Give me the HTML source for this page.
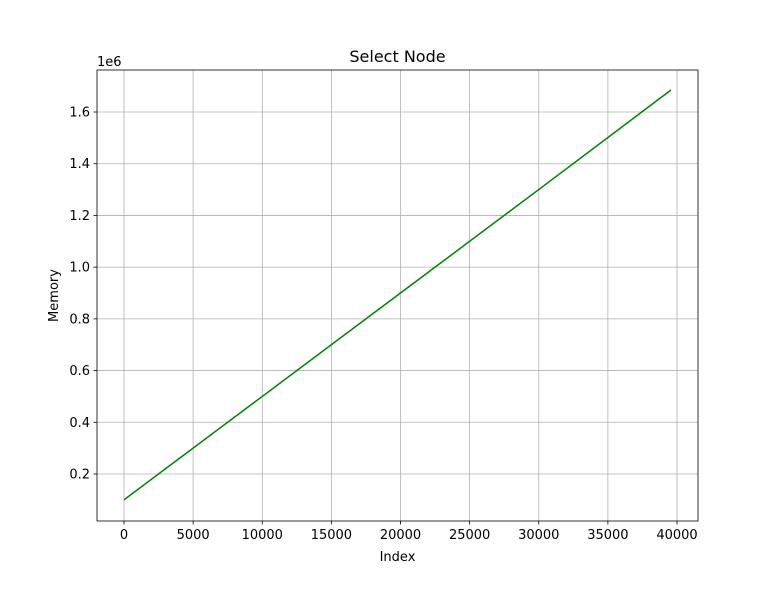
<!DOCTYPE html>
<html><head><meta charset="utf-8"><style>
body{margin:0;background:#fff;}
svg text{font-family:"DejaVu Sans","Liberation Sans",sans-serif;fill:#000;}
</style></head><body>
<svg id="chart" width="776" height="585" xmlns="http://www.w3.org/2000/svg"></svg>
<script>
const xValues=[0,10000,20000,30000,39566];
const yValues=[0.1e6,0.5e6,0.9e6,1.3e6,1.685e6];
const xTicks=[0,5000,10000,15000,20000,25000,30000,35000,40000];
const yTicks=[0.2,0.4,0.6,0.8,1.0,1.2,1.4,1.6];
const L=97,R=698,T=70,B=521;
function xs(v){return 124+(v/40000)*553;}
function ys(v){return 474-(v/1e6-0.2)*258.57;}
const svg=document.getElementById('chart');
const NS='http://www.w3.org/2000/svg';
function mk(tag,attrs,parent){const e=document.createElementNS(NS,tag);for(const k in attrs)e.setAttribute(k,attrs[k]);(parent||svg).appendChild(e);return e;}
const grid=mk('g',{});


xTicks.forEach(t=>{const x=xs(t);
 mk('line',{x1:x,x2:x,y1:T,y2:B,stroke:'#b0b0b0','stroke-width':0.8},grid);
 mk('line',{x1:x,x2:x,y1:B,y2:B+3.5,stroke:'#000','stroke-width':0.8});
 const tx=mk('text',{x:x,y:B+18,'font-size':13,'text-anchor':'middle'});tx.textContent=t;
 
 
});
yTicks.forEach(t=>{const y=ys(t*1e6);
 mk('line',{x1:L,x2:R,y1:y,y2:y,stroke:'#b0b0b0','stroke-width':0.8},grid);
 mk('line',{x1:L-3.5,x2:L,y1:y,y2:y,stroke:'#000','stroke-width':0.8});
 const tx=mk('text',{x:L-7,y:y+4.5,'font-size':13,'text-anchor':'end'});tx.textContent=t.toFixed(1);
 
 
});
const pts=xValues.map((v,i)=>xs(v)+','+ys(yValues[i])).join(' ');
const line=mk('polyline',{points:pts,fill:'none',stroke:'#008000','stroke-width':1.5});


const frame=mk('rect',{x:L,y:T,width:R-L,height:B-T,fill:'none',stroke:'#000','stroke-width':0.8});


const title=mk('text',{x:(L+R)/2,y:62,'font-size':16,'text-anchor':'middle'});title.textContent='Select Node';


const off=mk('text',{x:97,y:66,'font-size':13});off.textContent='1e6';


const xl=mk('text',{x:(L+R)/2,y:561,'font-size':13,'text-anchor':'middle'});xl.textContent='Index';


const yl=mk('text',{x:58,y:(T+B)/2,'font-size':13,'text-anchor':'middle',transform:'rotate(-90 58 '+((T+B)/2)+')'});yl.textContent='Memory';


</script>
</body></html>
